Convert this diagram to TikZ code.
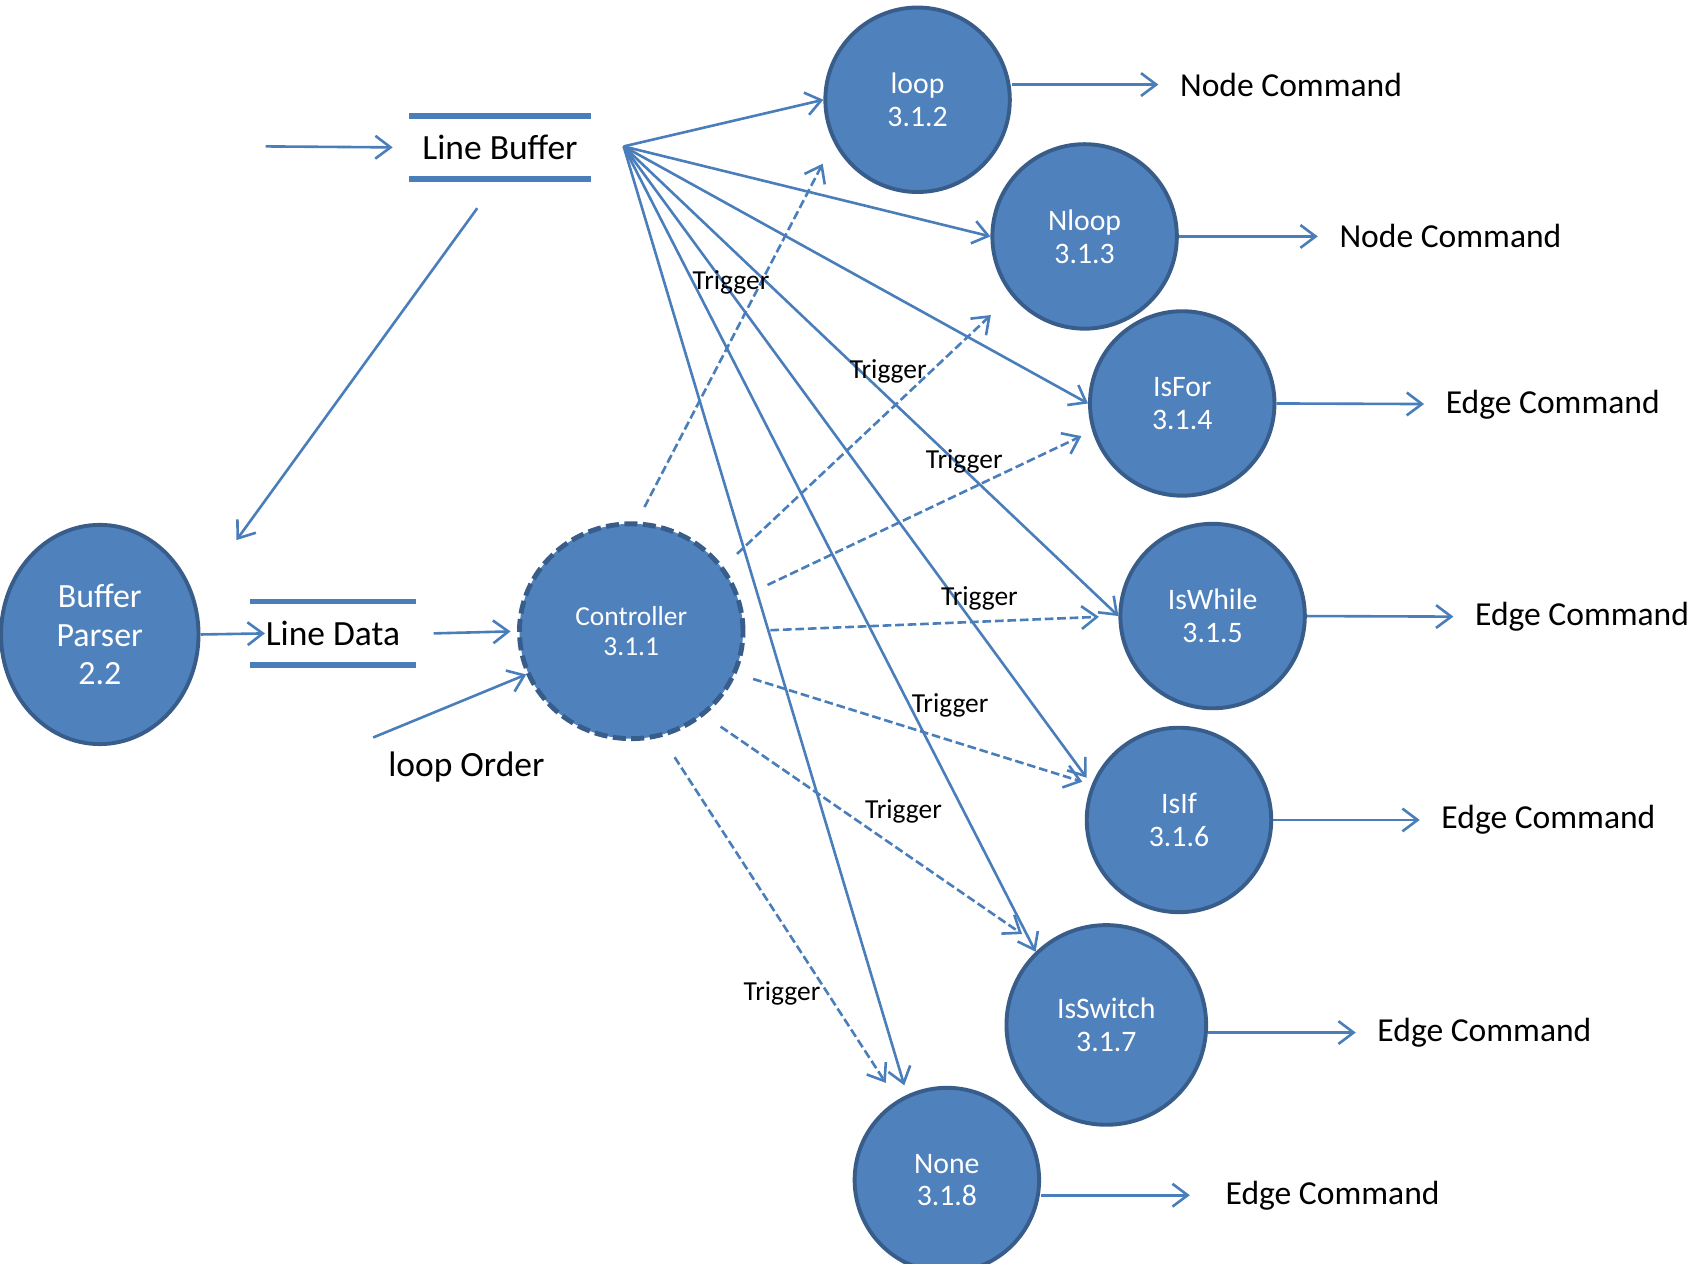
\documentclass[tikz,border=0pt]{standalone}
\usepackage{fontspec}
\setmainfont{Carlito}
\usetikzlibrary{arrows.meta, shapes.geometric}
\definecolor{fillblue}{HTML}{4F81BD}
\definecolor{edgeblue}{HTML}{385D8A}
\definecolor{lineblue}{HTML}{4A7EBB}

\begin{document}
\begin{tikzpicture}[x=0.01cm, y=-0.01cm, ->, >={Straight Barb[length=0.14cm, width=0.21cm]},
    flow/.style={draw=lineblue, line width=0.024cm},
    trig/.style={flow, dash pattern=on 0.08cm off 0.035cm},
    proc/.style={circle, fill=fillblue, draw=edgeblue, line width=0.036cm, text=white,
      minimum size=1.7cm, align=center, font=\fontsize{7.8}{8.6}\selectfont},
    store/.style={minimum width=1.52cm, minimum height=0.57cm, font=\fontsize{9.3}{11}\selectfont},
    bar/.style={-, draw=lineblue, line width=0.05cm},
    cmd/.style={anchor=west, inner sep=0.1cm, outer sep=0.1cm, font=\fontsize{8.8}{10}\selectfont},
    lbl/.style={inner sep=0pt, font=\fontsize{7.2}{8}\selectfont}]
    \useasboundingbox (0,0) rectangle (1560,1165);

    % processes
    \node[proc] (loop) at (846,92) {loop\\3.1.2};
    \node[proc] (nloop) at (1000,218) {Nloop\\3.1.3};
    \node[proc] (isfor) at (1090,372) {IsFor\\3.1.4};
    \node[proc] (iswhile) at (1118,568) {IsWhile\\3.1.5};
    \node[proc] (isif) at (1087,756) {IsIf\\3.1.6};
    \node[proc, minimum size=1.84cm] (isswitch) at (1020,945) {IsSwitch\\3.1.7};
    \node[proc] (none) at (873,1088) {None\\3.1.8};
    \node[proc, ellipse, minimum width=1.82cm, minimum height=2.02cm,
      font=\fontsize{8.9}{10.1}\selectfont] (parser) at (92,585) {Buffer\\Parser\\2.2};
    \node[proc, ellipse, minimum width=2.06cm, minimum height=1.98cm, line width=0.045cm,
      dash pattern=on 0.12cm off 0.05cm, font=\fontsize{7.2}{7.7}\selectfont] (ctrl) at (582,582) {Controller\\3.1.1};

    % stores
    \node[store] (lbuf) at (461,136) {Line Buffer};
    \draw[bar] (lbuf.north west) -- (lbuf.north east);
    \draw[bar] (lbuf.south west) -- (lbuf.south east);
    \node[store] (ldata) at (307,584) {Line Data};
    \draw[bar] (ldata.north west) -- (ldata.north east);
    \draw[bar] (ldata.south west) -- (ldata.south east);

    \coordinate (src) at (245,135);
    \coordinate (fan) at (575,135);
    \coordinate (pout) at (440,192);
    \coordinate (pin) at (218,498);
    \coordinate (oin) at (344,680);
    \node[store, minimum width=0pt, minimum height=0pt] (order) at (430,707) {loop Order};

    \draw[flow, shorten >=0.15cm] (src) -- (lbuf.west);
    \draw[flow] (pout) -- (pin);
    \draw[flow] (parser.east) -- ([xshift=0.14cm]ldata.west);
    \draw[flow, shorten >=0.06cm] ([xshift=0.16cm]ldata.east) -- (ctrl.west);
    \draw[flow] (oin) -- (ctrl);

    % line buffer fan
    \draw[flow] (fan) -- (loop.west);
    \draw[flow] (fan) -- (nloop.west);
    \draw[flow] (fan) -- (isfor.west);
    \draw[flow] (fan) -- (iswhile.west);
    \draw[flow, shorten >=0.08cm] (fan) -- (isif.158);
    \draw[flow] (fan) -- (isswitch.134);
    \draw[flow, shorten >=0.09cm] (fan) -- (none.115);

    % triggers
    \draw[trig, shorten <=0.15cm, shorten >=0.22cm] (ctrl.87) -- (loop.207);
    \draw[trig, shorten <=0.17cm, shorten >=0.26cm] (ctrl.35) -- (nloop.219);
    \draw[trig, shorten <=0.28cm, shorten >=0.11cm] (ctrl.17) -- (isfor.197);
    \draw[trig, shorten <=0.23cm, shorten >=0.18cm] (ctrl.0) -- (iswhile.180);
    \draw[trig, shorten <=0.16cm, shorten >=0.09cm] (ctrl.338) -- (isif.158);
    \draw[trig, shorten <=0.18cm, shorten >=0.21cm] (ctrl.311) -- (isswitch.130);
    \draw[trig, shorten <=0.22cm, shorten >=0.19cm] (ctrl.286) -- (none.122);
    \node[lbl] (t1) at (674,260) {Trigger};
    \node[lbl] (t2) at (819,342) {Trigger};
    \node[lbl] (t3) at (889,425) {Trigger};
    \node[lbl] (t4) at (903,552) {Trigger};
    \node[lbl] (t5) at (876,650) {Trigger};
    \node[lbl] (t6) at (833,748) {Trigger};
    \node[lbl] (t7) at (721,916) {Trigger};

    % commands
    \node[cmd] (c1) at (1068,78) {Node Command};
    \node[cmd] (c2) at (1215,218) {Node Command};
    \node[cmd] (c3) at (1313,373) {Edge Command};
    \node[cmd] (c4) at (1340,569) {Edge Command};
    \node[cmd] (c5) at (1309,756) {Edge Command};
    \node[cmd] (c6) at (1250,952) {Edge Command};
    \node[cmd] (c7) at (1110,1102) {Edge Command};
    \draw[flow] (loop.east |- c1) -- (c1);
    \draw[flow] (nloop.east) -- (c2);
    \draw[flow] (isfor.east) -- (c3);
    \draw[flow] (iswhile.east) -- (c4);
    \draw[flow] (isif.east) -- (c5);
    \draw[flow] (isswitch.east |- c6) -- (c6);
    \draw[flow, shorten >=0.13cm] (none.east |- c7) -- (c7);
\end{tikzpicture}
\end{document}
